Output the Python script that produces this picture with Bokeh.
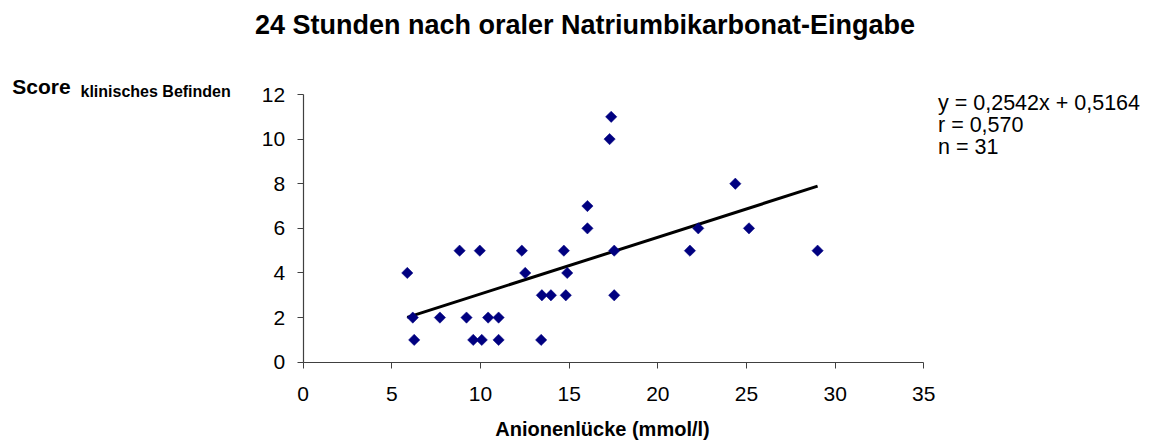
import math
from bokeh.plotting import figure
from bokeh.models import Range1d, FixedTicker, Label, ColumnDataSource, LinearAxis
from bokeh.embed import file_html
from bokeh.resources import INLINE

# ---- data ----
anion_gap = [5.87, 6.18, 6.26, 7.71, 8.82, 9.21, 9.59, 9.96, 10.07, 10.43, 11.02, 11.02,
             12.33, 12.52, 13.42, 13.46, 13.97, 14.70, 14.81, 14.89, 16.03, 16.03,
             17.37, 17.28, 17.54, 17.54, 21.81, 22.28, 24.37, 25.14, 29.01]
score = [4, 2, 1, 2, 5, 2, 1, 5, 1, 2, 2, 1,
         5, 4, 1, 3, 3, 5, 3, 4, 7, 6,
         11, 10, 5, 3, 5, 6, 8, 6, 5]
slope = 0.2542
intercept = 0.5164
x_ticks = [0, 5, 10, 15, 20, 25, 30, 35]
y_ticks = [0, 2, 4, 6, 8, 10, 12]
title_text = "24 Stunden nach oraler Natriumbikarbonat-Eingabe"
x_label = "Anionenlücke (mmol/l)"
y_label_main = "Score"
y_label_sub = "klinisches Befinden"
stats_lines = ["y = 0,2542x + 0,5164", "r = 0,570", "n = 31"]

FONT = "Liberation Sans"
W, H = 1149, 443

# ---- layout (pixels on the canvas) ----
X_MIN, X_MAX = x_ticks[0], x_ticks[-1]
Y_MIN, Y_MAX = y_ticks[0], y_ticks[-1]
PX_LEFT, PX_RIGHT = 302.7, 923.3     # screen x of X_MIN / X_MAX
PX_BOTTOM, PX_TOP = 361.7, 94.0      # screen y of Y_MIN / Y_MAX
kx = (PX_RIGHT - PX_LEFT) / (X_MAX - X_MIN)
ky = (PX_BOTTOM - PX_TOP) / (Y_MAX - Y_MIN)

def dx(px):
    return X_MIN + (px - PX_LEFT) / kx

def dy(py):
    return Y_MIN + (PX_BOTTOM - py) / ky

p = figure(width=W, height=H, output_backend="svg", toolbar_location=None,
           x_range=Range1d(dx(0), dx(W)), y_range=Range1d(dy(H), dy(0)),
           x_axis_type=None, y_axis_type=None, min_border=0)
p.min_border_left = p.min_border_right = p.min_border_top = p.min_border_bottom = 0
p.outline_line_color = None
p.background_fill_color = "white"
p.border_fill_color = "white"

xaxis = LinearAxis(fixed_location=Y_MIN, bounds=(X_MIN, X_MAX), ticker=FixedTicker(ticks=x_ticks))
yaxis = LinearAxis(fixed_location=X_MIN, bounds=(Y_MIN, Y_MAX), ticker=FixedTicker(ticks=y_ticks))
for ax in (xaxis, yaxis):
    ax.axis_line_color = "#404040"
    ax.axis_line_width = 1.2
    ax.major_tick_line_color = "#404040"
    ax.major_tick_out = 6
    ax.major_tick_in = 0
    ax.minor_tick_line_color = None
    ax.major_label_text_font = FONT
    ax.major_label_text_font_size = "21px"
    ax.major_label_text_color = "black"
xaxis.major_label_standoff = 19
yaxis.major_label_standoff = 12
p.add_layout(xaxis, "below")
p.add_layout(yaxis, "left")

# trend line from regression coefficients
x0, x1 = min(anion_gap), max(anion_gap)
p.line([x0, x1], [slope * x0 + intercept, slope * x1 + intercept],
       line_color="black", line_width=3)

src = ColumnDataSource(dict(x=anion_gap, y=score))
p.scatter("x", "y", source=src, marker="square", size=8.0, angle=math.pi / 4,
          fill_color="#000080", line_color="#000080", line_width=0.5)

def lab(px, baseline_py, t, size, bold=False, align="left"):
    # Bokeh positions "middle" around ~0.33 em above the baseline
    py = baseline_py - 0.33 * size
    p.add_layout(Label(x=dx(px), y=dy(py), text=t, text_font=FONT, text_font_size=f"{size}px",
                       text_font_style="bold" if bold else "normal",
                       text_align=align, text_baseline="middle", text_color="black"))

lab(584.5, 33.5, title_text, 27, bold=True, align="center")
lab(602, 435.5, x_label, 20, bold=True, align="center")
lab(11.7, 92.7, y_label_main, 21, bold=True)
lab(80, 96.7, y_label_sub, 16, bold=True)
for i, t in enumerate(stats_lines):
    lab(937.5, 110 + i * 22, t, 21.5)

open("out.html", "w").write(file_html(p, INLINE))
